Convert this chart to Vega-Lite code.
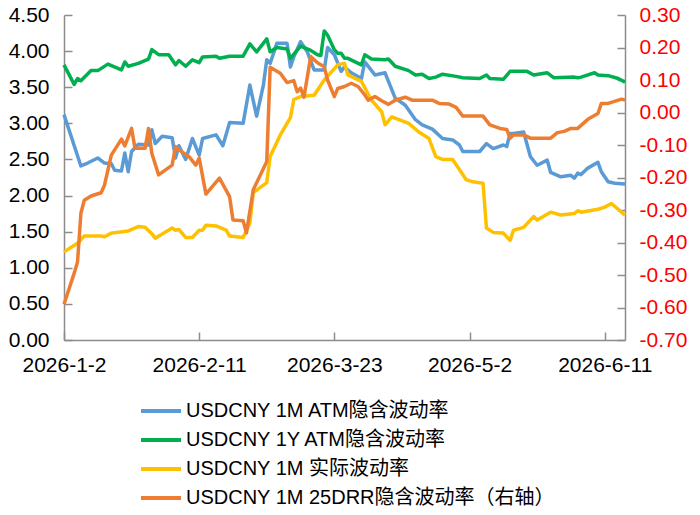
{
  "$schema": "https://vega.github.io/schema/vega-lite/v6.json",
  "width": 561,
  "height": 325,
  "padding": {"left": 8, "top": 4, "right": 5, "bottom": 0},
  "background": "white",
  "config": {
    "view": {"stroke": null},
    "font": "Liberation Sans",
    "axis": {
      "domainColor": "#8c8c8c",
      "domainWidth": 1.5,
      "tickColor": "#8c8c8c",
      "tickWidth": 1.5,
      "tickSize": -8,
      "labelFont": "Liberation Sans",
      "labelFontSize": 21,
      "labelColor": "#000000",
      "labelFlush": false,
      "labelOverlap": false,
      "grid": false,
      "title": null
    }
  },
  "datasets": {
    "blue": [
      {"d":"2026-01-02","v":3.12},{"d":"2026-01-07","v":2.41},{"d":"2026-01-09","v":2.45},{"d":"2026-01-12","v":2.52},
      {"d":"2026-01-14","v":2.45},{"d":"2026-01-16","v":2.44},{"d":"2026-01-17","v":2.35},{"d":"2026-01-19","v":2.34},
      {"d":"2026-01-20","v":2.59},{"d":"2026-01-21","v":2.33},{"d":"2026-01-22","v":2.61},{"d":"2026-01-24","v":2.71},
      {"d":"2026-01-27","v":2.70},{"d":"2026-01-28","v":2.91},{"d":"2026-01-29","v":2.72},{"d":"2026-01-31","v":2.82},
      {"d":"2026-02-03","v":2.80},{"d":"2026-02-04","v":2.52},{"d":"2026-02-05","v":2.69},{"d":"2026-02-07","v":2.50},
      {"d":"2026-02-09","v":2.79},{"d":"2026-02-11","v":2.56},{"d":"2026-02-12","v":2.79},{"d":"2026-02-16","v":2.84},
      {"d":"2026-02-18","v":2.69},{"d":"2026-02-20","v":3.01},{"d":"2026-02-24","v":3.00},{"d":"2026-02-26","v":3.53},
      {"d":"2026-02-28","v":3.10},{"d":"2026-03-02","v":3.53},{"d":"2026-03-03","v":3.88},{"d":"2026-03-04","v":3.83},
      {"d":"2026-03-06","v":4.11},{"d":"2026-03-09","v":4.11},{"d":"2026-03-10","v":3.78},{"d":"2026-03-11","v":3.92},
      {"d":"2026-03-13","v":4.13},{"d":"2026-03-15","v":3.99},{"d":"2026-03-17","v":3.74},{"d":"2026-03-20","v":3.74},
      {"d":"2026-03-21","v":4.05},{"d":"2026-03-23","v":3.95},{"d":"2026-03-25","v":3.72},{"d":"2026-03-26","v":3.78},
      {"d":"2026-03-28","v":3.70},{"d":"2026-03-31","v":3.62},{"d":"2026-04-01","v":3.85},{"d":"2026-04-04","v":3.67},
      {"d":"2026-04-07","v":3.70},{"d":"2026-04-10","v":3.35},{"d":"2026-04-13","v":3.25},{"d":"2026-04-16","v":3.05},
      {"d":"2026-04-18","v":2.98},{"d":"2026-04-21","v":2.92},{"d":"2026-04-24","v":2.79},{"d":"2026-04-27","v":2.77},
      {"d":"2026-04-29","v":2.70},{"d":"2026-04-30","v":2.61},{"d":"2026-05-05","v":2.61},{"d":"2026-05-07","v":2.72},
      {"d":"2026-05-09","v":2.65},{"d":"2026-05-12","v":2.70},{"d":"2026-05-13","v":2.68},{"d":"2026-05-14","v":2.86},
      {"d":"2026-05-15","v":2.86},{"d":"2026-05-18","v":2.88},{"d":"2026-05-20","v":2.54},{"d":"2026-05-22","v":2.42},
      {"d":"2026-05-25","v":2.49},{"d":"2026-05-26","v":2.32},{"d":"2026-05-29","v":2.26},{"d":"2026-06-01","v":2.28},
      {"d":"2026-06-02","v":2.24},{"d":"2026-06-03","v":2.31},{"d":"2026-06-04","v":2.29},{"d":"2026-06-06","v":2.38},
      {"d":"2026-06-09","v":2.46},{"d":"2026-06-10","v":2.33},{"d":"2026-06-12","v":2.19},{"d":"2026-06-14","v":2.17},
      {"d":"2026-06-17","v":2.16}
    ],
    "green": [
      {"d":"2026-01-02","v":3.81},{"d":"2026-01-05","v":3.54},{"d":"2026-01-06","v":3.62},{"d":"2026-01-07","v":3.59},
      {"d":"2026-01-10","v":3.73},{"d":"2026-01-12","v":3.73},{"d":"2026-01-15","v":3.82},{"d":"2026-01-19","v":3.74},
      {"d":"2026-01-20","v":3.85},{"d":"2026-01-21","v":3.79},{"d":"2026-01-24","v":3.83},{"d":"2026-01-27","v":3.89},
      {"d":"2026-01-28","v":4.02},{"d":"2026-01-30","v":3.95},{"d":"2026-02-02","v":3.95},{"d":"2026-02-04","v":3.81},
      {"d":"2026-02-05","v":3.87},{"d":"2026-02-07","v":3.79},{"d":"2026-02-09","v":3.88},{"d":"2026-02-11","v":3.84},
      {"d":"2026-02-12","v":3.92},{"d":"2026-02-16","v":3.93},{"d":"2026-02-17","v":3.90},{"d":"2026-02-20","v":3.93},
      {"d":"2026-02-24","v":3.93},{"d":"2026-02-26","v":4.10},{"d":"2026-02-28","v":3.99},{"d":"2026-03-03","v":4.17},
      {"d":"2026-03-04","v":3.99},{"d":"2026-03-06","v":4.05},{"d":"2026-03-09","v":4.03},{"d":"2026-03-10","v":3.90},
      {"d":"2026-03-13","v":4.07},{"d":"2026-03-16","v":4.01},{"d":"2026-03-18","v":3.95},{"d":"2026-03-19","v":3.94},
      {"d":"2026-03-20","v":4.28},{"d":"2026-03-21","v":4.22},{"d":"2026-03-23","v":4.02},{"d":"2026-03-24","v":3.97},
      {"d":"2026-03-25","v":3.97},{"d":"2026-03-26","v":3.90},{"d":"2026-03-27","v":3.90},{"d":"2026-03-31","v":3.81},
      {"d":"2026-04-01","v":3.95},{"d":"2026-04-03","v":3.89},{"d":"2026-04-07","v":3.88},{"d":"2026-04-08","v":3.89},
      {"d":"2026-04-10","v":3.79},{"d":"2026-04-14","v":3.73},{"d":"2026-04-16","v":3.67},{"d":"2026-04-18","v":3.68},
      {"d":"2026-04-20","v":3.62},{"d":"2026-04-22","v":3.64},{"d":"2026-04-24","v":3.68},{"d":"2026-04-28","v":3.65},
      {"d":"2026-04-30","v":3.63},{"d":"2026-05-05","v":3.62},{"d":"2026-05-07","v":3.67},{"d":"2026-05-08","v":3.62},
      {"d":"2026-05-12","v":3.61},{"d":"2026-05-14","v":3.72},{"d":"2026-05-19","v":3.72},{"d":"2026-05-21","v":3.67},
      {"d":"2026-05-25","v":3.70},{"d":"2026-05-27","v":3.63},{"d":"2026-06-02","v":3.64},{"d":"2026-06-03","v":3.63},
      {"d":"2026-06-04","v":3.64},{"d":"2026-06-08","v":3.70},{"d":"2026-06-09","v":3.67},{"d":"2026-06-12","v":3.66},
      {"d":"2026-06-15","v":3.62},{"d":"2026-06-17","v":3.57}
    ],
    "yellow": [
      {"d":"2026-01-02","v":1.22},{"d":"2026-01-06","v":1.34},{"d":"2026-01-08","v":1.44},{"d":"2026-01-13","v":1.44},
      {"d":"2026-01-14","v":1.43},{"d":"2026-01-16","v":1.48},{"d":"2026-01-21","v":1.51},{"d":"2026-01-24","v":1.57},
      {"d":"2026-01-26","v":1.56},{"d":"2026-01-28","v":1.47},{"d":"2026-01-29","v":1.41},{"d":"2026-02-03","v":1.55},
      {"d":"2026-02-04","v":1.52},{"d":"2026-02-05","v":1.53},{"d":"2026-02-07","v":1.42},{"d":"2026-02-09","v":1.42},
      {"d":"2026-02-11","v":1.52},{"d":"2026-02-12","v":1.52},{"d":"2026-02-13","v":1.59},{"d":"2026-02-16","v":1.58},
      {"d":"2026-02-19","v":1.52},{"d":"2026-02-20","v":1.44},{"d":"2026-02-24","v":1.42},{"d":"2026-02-26","v":1.62},
      {"d":"2026-02-27","v":2.04},{"d":"2026-03-03","v":2.18},{"d":"2026-03-04","v":2.54},{"d":"2026-03-07","v":2.84},
      {"d":"2026-03-10","v":3.08},{"d":"2026-03-11","v":3.33},{"d":"2026-03-13","v":3.37},{"d":"2026-03-17","v":3.39},
      {"d":"2026-03-20","v":3.60},{"d":"2026-03-24","v":3.81},{"d":"2026-03-26","v":3.83},{"d":"2026-03-27","v":3.67},
      {"d":"2026-03-31","v":3.58},{"d":"2026-04-03","v":3.32},{"d":"2026-04-06","v":3.16},{"d":"2026-04-07","v":2.98},
      {"d":"2026-04-09","v":3.09},{"d":"2026-04-14","v":3.00},{"d":"2026-04-17","v":2.88},{"d":"2026-04-20","v":2.79},
      {"d":"2026-04-22","v":2.54},{"d":"2026-04-24","v":2.50},{"d":"2026-04-27","v":2.50},{"d":"2026-04-29","v":2.36},
      {"d":"2026-05-01","v":2.22},{"d":"2026-05-03","v":2.19},{"d":"2026-05-06","v":2.17},{"d":"2026-05-07","v":1.55},
      {"d":"2026-05-09","v":1.49},{"d":"2026-05-12","v":1.48},{"d":"2026-05-14","v":1.38},{"d":"2026-05-15","v":1.52},
      {"d":"2026-05-18","v":1.56},{"d":"2026-05-21","v":1.71},{"d":"2026-05-22","v":1.66},{"d":"2026-05-26","v":1.77},
      {"d":"2026-05-29","v":1.73},{"d":"2026-06-02","v":1.75},{"d":"2026-06-03","v":1.79},{"d":"2026-06-04","v":1.77},
      {"d":"2026-06-09","v":1.81},{"d":"2026-06-11","v":1.84},{"d":"2026-06-13","v":1.89},{"d":"2026-06-17","v":1.73}
    ],
    "orange": [
      {"d":"2026-01-02","v":-0.59},{"d":"2026-01-05","v":-0.495},{"d":"2026-01-06","v":-0.46},{"d":"2026-01-07","v":-0.31},
      {"d":"2026-01-08","v":-0.27},{"d":"2026-01-10","v":-0.257},{"d":"2026-01-13","v":-0.247},{"d":"2026-01-14","v":-0.223},
      {"d":"2026-01-16","v":-0.131},{"d":"2026-01-19","v":-0.082},{"d":"2026-01-20","v":-0.103},{"d":"2026-01-22","v":-0.049},
      {"d":"2026-01-23","v":-0.11},{"d":"2026-01-26","v":-0.11},{"d":"2026-01-27","v":-0.049},{"d":"2026-01-28","v":-0.126},
      {"d":"2026-01-30","v":-0.192},{"d":"2026-02-03","v":-0.162},{"d":"2026-02-04","v":-0.105},{"d":"2026-02-05","v":-0.115},
      {"d":"2026-02-08","v":-0.136},{"d":"2026-02-10","v":-0.162},{"d":"2026-02-11","v":-0.14},{"d":"2026-02-13","v":-0.251},
      {"d":"2026-02-17","v":-0.202},{"d":"2026-02-20","v":-0.259},{"d":"2026-02-21","v":-0.331},{"d":"2026-02-24","v":-0.333},
      {"d":"2026-02-25","v":-0.37},{"d":"2026-02-27","v":-0.238},{"d":"2026-03-03","v":-0.151},{"d":"2026-03-04","v":0.139},
      {"d":"2026-03-07","v":0.121},{"d":"2026-03-09","v":0.092},{"d":"2026-03-11","v":0.098},{"d":"2026-03-12","v":0.064},
      {"d":"2026-03-13","v":0.075},{"d":"2026-03-14","v":0.047},{"d":"2026-03-16","v":0.172},{"d":"2026-03-18","v":0.153},
      {"d":"2026-03-20","v":0.141},{"d":"2026-03-21","v":0.10},{"d":"2026-03-23","v":0.049},{"d":"2026-03-24","v":0.074},
      {"d":"2026-03-26","v":0.08},{"d":"2026-03-28","v":0.09},{"d":"2026-03-30","v":0.08},{"d":"2026-04-01","v":0.054},
      {"d":"2026-04-02","v":0.038},{"d":"2026-04-04","v":0.049},{"d":"2026-04-06","v":0.036},{"d":"2026-04-08","v":0.025},
      {"d":"2026-04-10","v":0.038},{"d":"2026-04-13","v":0.047},{"d":"2026-04-15","v":0.038},{"d":"2026-04-21","v":0.038},
      {"d":"2026-04-23","v":0.028},{"d":"2026-04-26","v":0.026},{"d":"2026-04-28","v":0.016},{"d":"2026-04-30","v":-0.011},
      {"d":"2026-05-06","v":-0.011},{"d":"2026-05-08","v":-0.038},{"d":"2026-05-11","v":-0.049},{"d":"2026-05-13","v":-0.052},
      {"d":"2026-05-14","v":-0.079},{"d":"2026-05-15","v":-0.069},{"d":"2026-05-18","v":-0.069},{"d":"2026-05-20","v":-0.079},
      {"d":"2026-05-26","v":-0.079},{"d":"2026-05-28","v":-0.062},{"d":"2026-05-30","v":-0.058},{"d":"2026-06-01","v":-0.049},
      {"d":"2026-06-03","v":-0.049},{"d":"2026-06-06","v":-0.021},{"d":"2026-06-09","v":-0.003},{"d":"2026-06-10","v":0.028},
      {"d":"2026-06-12","v":0.028},{"d":"2026-06-16","v":0.041},{"d":"2026-06-17","v":0.038}
    ]
  },
  "layer": [
    {
      "encoding": {
        "x": {
          "field": "d", "type": "temporal",
          "scale": {"type": "utc", "domain": [{"year": 2026, "month": 1, "date": 2, "utc": true}, {"year": 2026, "month": 6, "date": 17, "utc": true}]},
          "axis": {
            "values": [
              {"year": 2026, "month": 1, "date": 2, "utc": true},
              {"year": 2026, "month": 2, "date": 11, "utc": true},
              {"year": 2026, "month": 3, "date": 23, "utc": true},
              {"year": 2026, "month": 5, "date": 2, "utc": true},
              {"year": 2026, "month": 6, "date": 11, "utc": true}
            ],
            "labelExpr": "utcFormat(datum.value, '%Y-%-m-%-d')",
            "labelPadding": 22
          }
        },
        "y": {
          "field": "v", "type": "quantitative",
          "scale": {"domain": [0, 4.5], "nice": false, "zero": false},
          "axis": {
            "orient": "left",
            "values": [0, 0.5, 1, 1.5, 2, 2.5, 3, 3.5, 4, 4.5],
            "format": ".2f",
            "labelPadding": 23
          }
        }
      },
      "layer": [
        {
          "data": {"name": "blue"},
          "mark": {"type": "line", "strokeWidth": 3.5, "strokeJoin": "round"},
          "encoding": {
            "color": {
              "datum": "USDCNY 1M ATM隐含波动率",
              "type": "nominal",
              "scale": {
                "domain": ["USDCNY 1M ATM隐含波动率", "USDCNY 1Y ATM隐含波动率", "USDCNY 1M 实际波动率", "USDCNY 1M 25DRR隐含波动率（右轴）"],
                "range": ["#5b9bd5", "#00b050", "#ffc000", "#ed7d31"]
              },
              "legend": {
                "orient": "none",
                "legendX": 85,
                "legendY": 384,
                "direction": "vertical",
                "title": null,
                "symbolType": "M-2,0H2",
                "symbolSize": 400,
                "symbolStrokeWidth": 4,
                "labelFont": "Liberation Sans, Noto Sans CJK SC",
                "labelFontSize": 20,
                "labelColor": "#000000",
                "labelOffset": 13,
                "labelLimit": 600,
                "rowPadding": 7
              }
            }
          }
        },
        {
          "data": {"name": "green"},
          "mark": {"type": "line", "strokeWidth": 3.5, "strokeJoin": "round"},
          "encoding": {"color": {"datum": "USDCNY 1Y ATM隐含波动率", "type": "nominal"}}
        },
        {
          "data": {"name": "yellow"},
          "mark": {"type": "line", "strokeWidth": 3.5, "strokeJoin": "round"},
          "encoding": {"color": {"datum": "USDCNY 1M 实际波动率", "type": "nominal"}}
        }
      ]
    },
    {
      "data": {"name": "orange"},
      "mark": {"type": "line", "strokeWidth": 3.5, "strokeJoin": "round"},
      "encoding": {
        "x": {
          "field": "d", "type": "temporal",
          "axis": {
            "values": [
              {"year": 2026, "month": 1, "date": 2, "utc": true},
              {"year": 2026, "month": 2, "date": 11, "utc": true},
              {"year": 2026, "month": 3, "date": 23, "utc": true},
              {"year": 2026, "month": 5, "date": 2, "utc": true},
              {"year": 2026, "month": 6, "date": 11, "utc": true}
            ],
            "labelExpr": "utcFormat(datum.value, '%Y-%-m-%-d')",
            "labelPadding": 22
          }
        },
        "y": {
          "field": "v", "type": "quantitative",
          "scale": {"domain": [-0.7, 0.3], "nice": false, "zero": false},
          "axis": {
            "orient": "right",
            "values": [-0.7, -0.6, -0.5, -0.4, -0.3, -0.2, -0.1, 0, 0.1, 0.2, 0.3],
            "labelExpr": "replace(format(datum.value, '.2f'), '\u2212', '-')",
            "labelColor": "#ff0000",
            "labelPadding": 22
          }
        },
        "color": {"datum": "USDCNY 1M 25DRR隐含波动率（右轴）", "type": "nominal"}
      }
    }
  ],
  "resolve": {"scale": {"y": "independent"}}
}
